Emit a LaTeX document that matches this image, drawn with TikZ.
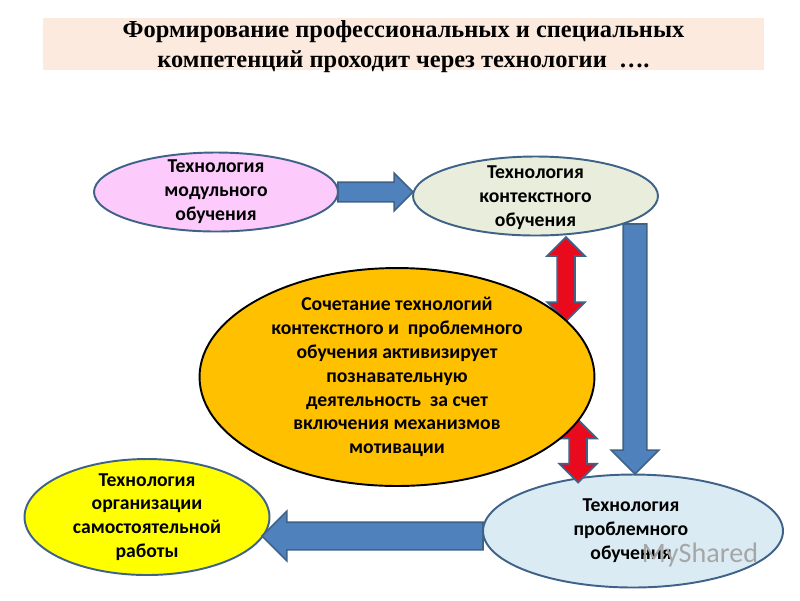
\documentclass[tikz,border=0pt]{standalone}
\usepackage{fontspec}
\setmainfont{Carlito}
\newfontfamily\titlefont{Liberation Serif}
\usetikzlibrary{shapes.geometric,shapes.arrows}
\definecolor{bandpeach}{HTML}{FBEADD}
\definecolor{edgeblue}{HTML}{3F6288}
\definecolor{arrowblue}{HTML}{4F81BD}
\definecolor{redfill}{HTML}{EA0A1E}
\definecolor{pinkfill}{HTML}{FCCBFC}
\definecolor{sagefill}{HTML}{E9EEDC}
\definecolor{orangefill}{HTML}{FFC000}
\definecolor{paleblue}{HTML}{DAEBF3}
\definecolor{lemonfill}{HTML}{FFFF00}
\begin{document}
\begin{tikzpicture}[x=.02cm,y=-.02cm,
  techno/.style={ellipse,draw=edgeblue,line width=1.1pt,inner sep=0pt,outer sep=0pt},
  ovaltext/.style={align=center,inner sep=0pt,font=\fontsize{11.2}{13.6}\selectfont\bfseries},
  blockarrow/.style={single arrow,draw=edgeblue,fill=arrowblue,line width=.9pt,outer sep=0pt},
  twinarrow/.style={double arrow,draw=edgeblue,fill=redfill,line width=1pt,inner sep=.16cm,
    double arrow head extend=.2cm,shape border rotate=90}]
\useasboundingbox (0,0) rectangle (800,600);
\fill[white] (0,0) rectangle (800,600);
\node[fill=bandpeach,minimum width=14.42cm,minimum height=1.04cm,inner sep=0pt] (band) at (403.5,44) {};
\node[align=center,font=\titlefont\fontsize{13.9}{17.4}\selectfont\bfseries] (heading) at (403.5,46.5)
  {Формирование профессиональных и специальных\\компетенций проходит через технологии\ \ ….};
\node[techno,fill=pinkfill,minimum width=4.88cm,minimum height=1.58cm,
  label={[ovaltext]center:Технология\\модульного\\обучения}] (modul) at (216,192) {};
\node[techno,fill=sagefill,minimum width=4.9cm,minimum height=1.58cm,
  label={[ovaltext,yshift=-.04cm]center:Технология\\контекстного\\обучения}] (context) at (535.5,196) {};
\node[techno,fill=lemonfill,minimum width=4.9cm,minimum height=2.32cm,
  label={[ovaltext]center:Технология\\организации\\самостоятельной\\работы}] (selfwork) at (147,517) {};
\node[techno,fill=paleblue,minimum width=6cm,minimum height=2.26cm,
  label={[ovaltext,xshift=-.04cm]center:Технология\\проблемного\\обучения}] (problem) at (633,531) {};
% the red arrows go under the orange oval
\node[twinarrow,minimum height=1.68cm] (upper) at (566,279) {};
\node[twinarrow,minimum height=1.26cm] (lower) at (578,451) {};
\node[techno,draw=black,fill=orangefill,minimum width=7.9cm,minimum height=4.36cm,
  label={[ovaltext]center:Сочетание технологий\\контекстного и~~проблемного\\обучения активизирует\\познавательную\\деятельность~~за счет\\включения механизмов\\мотивации}] (centre) at (397,377) {};
\node[blockarrow,anchor=tail,inner sep=.18cm,single arrow head extend=.18cm,minimum height=1.5cm] (toContext) at (modul.east) {};
\node[blockarrow,anchor=tail,inner sep=.22cm,single arrow head extend=.24cm,shape border rotate=270,minimum height=5cm] (toProblem) at (635,224) {};
\node[blockarrow,anchor=tail,inner sep=.26cm,single arrow head extend=.22cm,shape border rotate=180,minimum height=4.42cm] (toSelfwork) at (problem.west |- 0,536) {};
\node[text=gray!70,font=\fontsize{16}{16}\selectfont] (mark) at (700,555) {MyShared};
\end{tikzpicture}
\end{document}
